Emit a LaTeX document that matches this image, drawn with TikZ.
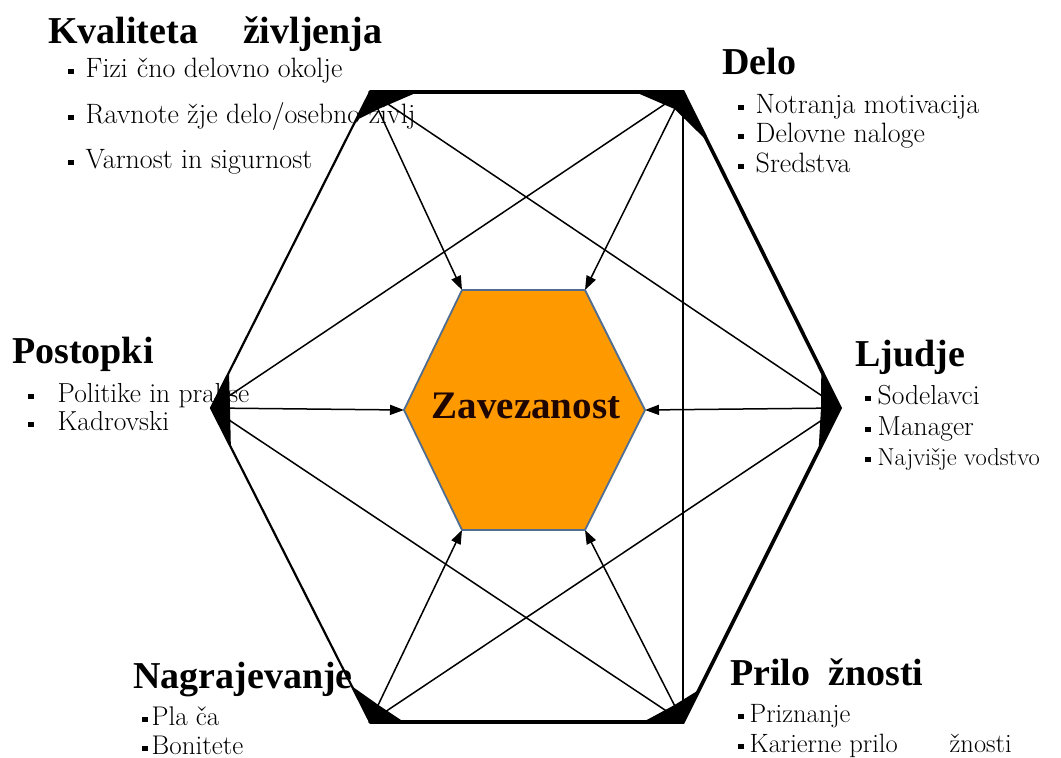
\documentclass[tikz,border=0pt]{standalone}
\usepackage{fontspec}
\newfontfamily\libserif{Liberation Serif}
\usetikzlibrary{calc,arrows.meta}
\definecolor{hexfill}{RGB}{255,153,0}
\definecolor{hexline}{RGB}{80,110,145}
\definecolor{zavtext}{RGB}{30,5,0}
\newcommand{\bul}{\rule[3pt]{5.5pt}{5.5pt}}
\newcommand{\wedgeat}[5]{\fill ($(#1)!#4!(#2)$) -- (#1) -- ($(#1)!#5!(#3)$) -- ($(#1)!19pt!(C)$) -- cycle;}
\begin{document}
\begin{tikzpicture}[x=1pt,y=-1pt,
  head/.style={anchor=base west,inner sep=0pt,font=\libserif\bfseries\fontsize{38}{40}\selectfont},
  item/.style={anchor=base west,inner sep=0pt,font=\rmfamily\fontsize{#1}{#1}\selectfont},
  item/.default=27,
  outerthick/.style={line width=3.6pt,line cap=round},
  outerthin/.style={line width=2.2pt,line cap=round},
  conn/.style={line width=1.5pt,-{Triangle[length=14pt,width=10pt]}},
  diag/.style={line width=1.5pt}]
\useasboundingbox[fill=white] (0,0) rectangle (1061,758);

% vertices
\coordinate (V1) at (370,92);
\coordinate (V2) at (683,92);
\coordinate (V3) at (840,408);
\coordinate (V4) at (683,722);
\coordinate (V5) at (370,722);
\coordinate (V6) at (211,408);
\coordinate (C) at (526,408);
\coordinate (I1) at (462,290);
\coordinate (I2) at (585,290);
\coordinate (I3) at (645,410);
\coordinate (I4) at (585,530);
\coordinate (I5) at (462,530);
\coordinate (I6) at (404,410);

% texts
\node[head] (kvh) at (48,43) {Kvaliteta\hspace{45pt}življenja};
\node[item=28] (kv1) at (68,77) {\bul\hspace{12pt}Fizi\hspace{9pt}čno delovno okolje};
\node[item=28] (kv2) at (68,123) {\bul\hspace{12pt}Ravnote žje delo/osebno življ};
\node[item=28] (kv3) at (68,168) {\bul\hspace{12pt}Varnost in sigurnost};

\node[head] (deh) at (722,74) {Delo};
\node[item=28] (de1) at (738,113) {\bul\hspace{12pt}Notranja motivacija};
\node[item=28] (de2) at (738,142) {\bul\hspace{12pt}Delovne naloge};
\node[item=28] (de3) at (738,172) {\bul\hspace{12pt}Sredstva};

\node[head] (poh) at (12,363) {Postopki};
\node[item=27.5] (po1) at (28,402) {\bul\hspace{24pt}Politike in prakse};
\node[item=27.5] (po2) at (28,430) {\bul\hspace{24pt}Kadrovski};

\node[head] (ljh) at (855,366) {Ljudje};
\node[item=27.5] (lj1) at (865,404) {\bul\hspace{7pt}Sodelavci};
\node[item=27.5] (lj2) at (865,435) {\bul\hspace{7pt}Manager};
\node[item=24.5] (lj3) at (865,465) {\bul\hspace{7pt}Najvišje vodstvo};

\node[head] (nah) at (133,688) {Nagrajevanje};
\node[item=27] (na1) at (142,725) {\bul\hspace{4pt}Pla ča};
\node[item=27] (na2) at (142,754) {\bul\hspace{4pt}Bonitete};

\node[head] (prh) at (730,685) {Prilo\hspace{18pt}žnosti};
\node[item=26.5] (pr1) at (738,722) {\bul\hspace{6pt}Priznanje};
\node[item=26.5] (pr2) at (738,752) {\bul\hspace{6pt}Karierne prilo\hspace{52pt}žnosti};

% diagonals
\draw[diag] (V1) -- (V3);
\draw[diag] (V2) -- (V6);
\draw[diag] (V6) -- (V4);
\draw[diag] (V3) -- (V5);
\draw[diag] (V2) -- (V4);

% arrows to centre
\draw[conn] (V1) -- (I1);
\draw[conn] (V2) -- (I2);
\draw[conn] (V3) -- (I3);
\draw[conn] (V4) -- (I4);
\draw[conn] (V5) -- (I5);
\draw[conn] (V6) -- (I6);

% outer hexagon
\draw[outerthick] (V1) -- (V2) -- (V3) -- (V4) -- (V5);
\draw[outerthin] (V5) -- (V6) -- (V1);

% corner wedges
\wedgeat{V1}{V2}{V6}{48pt}{32pt}
\wedgeat{V2}{V1}{V3}{48pt}{55pt}
\wedgeat{V3}{V2}{V4}{42pt}{48pt}
\wedgeat{V4}{V5}{V3}{40pt}{36pt}
\wedgeat{V5}{V4}{V6}{34pt}{40pt}
\wedgeat{V6}{V1}{V5}{40pt}{44pt}

% inner hexagon
\filldraw[fill=hexfill,draw=hexline,line width=1.8pt,line join=miter]
  (I1) -- (I2) -- (I3) -- (I4) -- (I5) -- (I6) -- cycle;
\node[font=\libserif\bfseries\fontsize{39}{41}\selectfont,text=zavtext,anchor=base,inner sep=0pt] (zav) at (526,418) {Zavezanost};
\end{tikzpicture}
\end{document}
